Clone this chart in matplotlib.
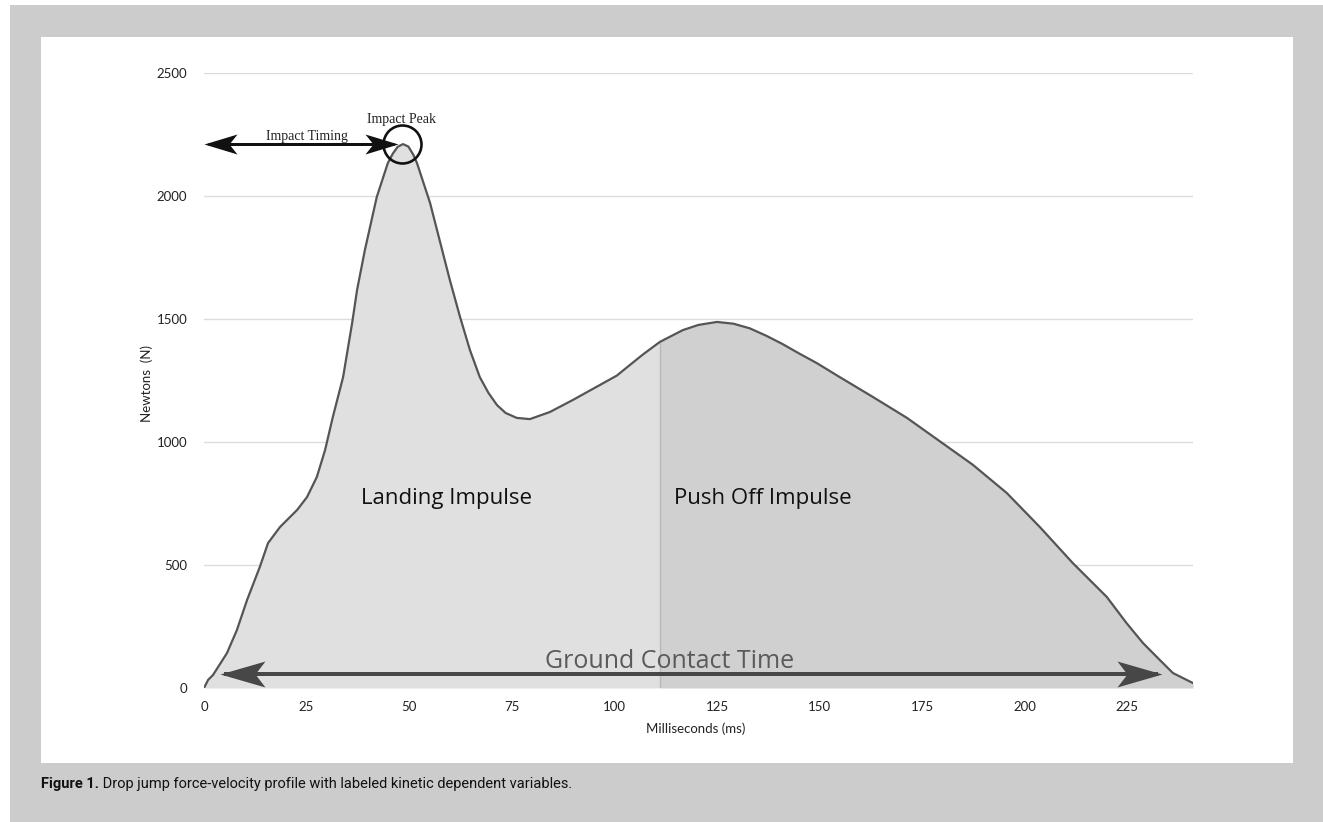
import numpy as np
import matplotlib.pyplot as plt
from matplotlib.patches import Rectangle
from matplotlib.path import Path

# force curve (ms, N)
time_ms = [0, 1.0, 2.2, 5.6, 8.0, 10.5, 13.6, 15.6, 18.5, 22.7, 25.1, 27.5, 29.5,
           31.4, 33.9, 36.1, 37.3, 39.2, 42.1, 44.8, 46.0, 47.2, 48.5, 49.8, 51.0,
           51.9, 55.1, 59.9, 62.4, 64.8, 67.2, 69.3, 71.4, 73.5, 76.2, 79.4, 84.3,
           89.9, 96.5, 100.6, 103.7, 106.9, 111.1, 116.7, 120.5, 125.0, 129.0,
           133.0, 137.0, 141.0, 145.0, 149.3, 154.9, 163.0, 171.3, 179.3, 187.3,
           195.6, 203.7, 211.7, 220.0, 224.8, 228.8, 232.9, 236.1, 241.0]
force_n = [0, 33, 53, 142, 235, 358, 492, 589, 654, 724, 776, 858, 967,
           1102, 1264, 1484, 1618, 1780, 1996, 2134, 2172, 2200, 2211, 2201, 2168,
           2134, 1971, 1659, 1508, 1374, 1264, 1200, 1150, 1118, 1098, 1093, 1122,
           1171, 1232, 1270, 1312, 1355, 1407, 1455, 1476, 1488, 1481,
           1462, 1432, 1398, 1360, 1321, 1264, 1183, 1098, 1003, 908,
           793, 654, 508, 370, 264, 183, 114, 61, 20]

split_ms = 111.1          # landing / push-off boundary
peak_ms, peak_n = 48.2, 2211
timing_y = 2211
contact_start, contact_end, contact_y = 3.9, 233.4, 57

x_ticks = list(range(0, 226, 25))
y_ticks = list(range(0, 2501, 500))

t = np.array(time_ms)
f = np.array(force_n)

W, H = 1323, 822
fig = plt.figure(figsize=(W / 100, H / 100), dpi=100)
fig.patch.set_facecolor('white')
fig.add_artist(Rectangle((10 / W, 0), (W - 10) / W, (H - 5) / H, transform=fig.transFigure,
                         fc='#cccccc', ec='none', zorder=-2))
fig.add_artist(Rectangle((41 / W, (H - 763) / H), (1293 - 41) / W, (763 - 37) / H,
                         transform=fig.transFigure, fc='white', ec='none', zorder=-1))

ax = fig.add_axes([204 / W, (H - 688) / H, (1193 - 204) / W, (688 - 73) / H])
ax.set_xlim(0, 241)
ax.set_ylim(0, 2500)
for s in ax.spines.values():
    s.set_visible(False)
ax.set_yticks(y_ticks)
ax.set_xticks(x_ticks)
ax.tick_params(length=0, labelsize=9.5, labelcolor='#222222')
ax.tick_params(axis='y', pad=12)
ax.tick_params(axis='x', pad=9)
for lab in ax.get_xticklabels() + ax.get_yticklabels():
    lab.set_family('Lato')
ax.grid(axis='y', color='#dcdcdc', lw=1)
ax.set_axisbelow(True)

left = t <= split_ms
right = t >= split_ms
ax.fill_between(t[left], f[left], color='#e0e0e0', lw=0, zorder=1)
ax.fill_between(t[right], f[right], color='#d0d0d0', lw=0, zorder=1)
ax.vlines(split_ms, 0, f[t == split_ms][0], color='#b8b8b8', lw=1, zorder=2)
ax.plot(t, f, color='#555555', lw=1.6, zorder=3, solid_joinstyle='round')


def head(length, half, notch, pointing):
    # stealth style arrow head with tip at the origin
    s = 1 if pointing == 'left' else -1
    verts = [(0, 0), (s * length, half), (s * notch, 0), (s * length, -half), (0, 0)]
    codes = [Path.MOVETO, Path.LINETO, Path.LINETO, Path.LINETO, Path.CLOSEPOLY]
    return Path(verts, codes)


def double_arrow(x0, x1, y, lw, color, length, half, notch):
    ax.plot([x0 + 1, x1 - 1], [y, y], color=color, lw=lw * 0.72, zorder=4,
            solid_capstyle='butt')
    ms = 2 * length * 0.72
    ax.plot(x0, y, marker=head(length, half, notch, 'left'), ms=ms, color=color,
            mew=0, zorder=5)
    ax.plot(x1, y, marker=head(length, half, notch, 'right'), ms=ms, color=color,
            mew=0, zorder=5)


double_arrow(contact_start, contact_end, contact_y, 4, '#474747', 45, 13, 35)
double_arrow(0, 47.3, timing_y, 3, '#111111', 33, 10, 25)

ax.plot(peak_ms, peak_n, marker='o', ms=38 * 0.72, mfc='none', mec='#111111',
        mew=2.6 * 0.72, zorder=6)

ax.text(peak_ms, 2313, 'Impact Peak', ha='center', va='center', fontsize=10,
        family='Liberation Serif', color='#222222')
ax.text(25.1, 2242, 'Impact Timing', ha='center', va='center', fontsize=10,
        family='Liberation Serif', color='#222222')
ax.text(59.2, 772, 'Landing Impulse', ha='center', va='center', fontsize=16,
        family='Open Sans', color='#111111', zorder=6)
ax.text(136.2, 772, 'Push Off Impulse', ha='center', va='center', fontsize=16,
        family='Open Sans', color='#111111', zorder=6)
ax.text(113.5, 108, 'Ground Contact Time', ha='center', va='center', fontsize=18,
        family='Open Sans', color='#5a5a5a', zorder=6)

ax.text(-57 / 989, (688 - 383) / 615, 'Newtons  (N)', rotation=90, ha='center',
        va='center', transform=ax.transAxes, fontsize=9.5, family='Lato', color='#222222')
ax.text(0.497, -41 / 615, 'Milliseconds (ms)', ha='center', va='center',
        transform=ax.transAxes, fontsize=9.5, family='Lato', color='#222222')

cap = fig.text(41 / W, 1 - 784 / H, 'Figure 1.', ha='left', va='center', fontsize=10.5,
               weight='bold', family='Roboto', color='#111111')
ax.annotate(' Drop jump force-velocity profile with labeled kinetic dependent variables.',
            xy=(1, 0.5), xycoords=cap, va='center', ha='left', fontsize=10.5,
            family='Roboto', color='#111111', annotation_clip=False)

fig.savefig('out.png', dpi=100)
